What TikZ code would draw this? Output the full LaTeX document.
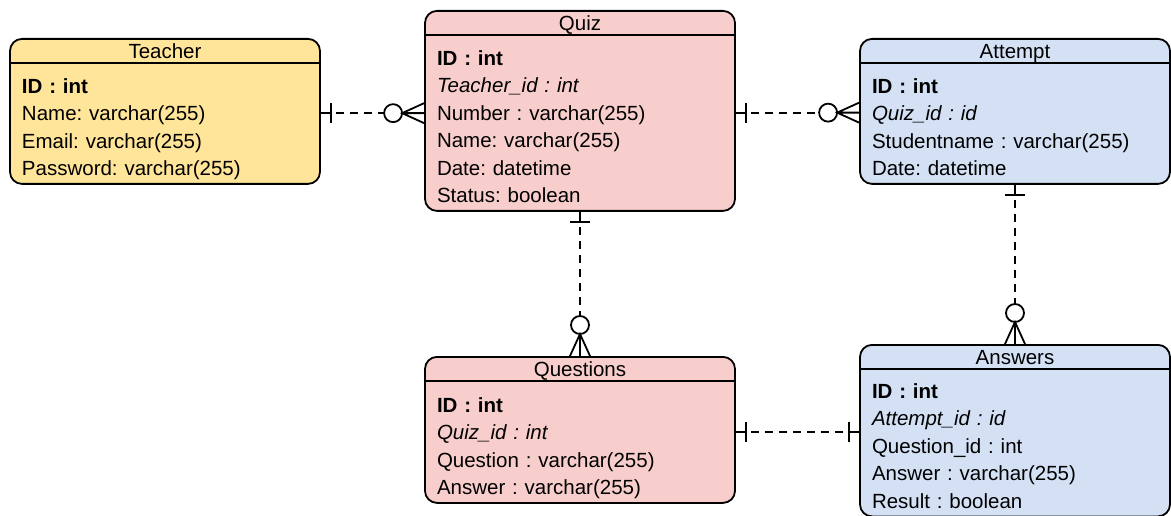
\documentclass[tikz,border=0pt]{standalone}
\usepackage{fontspec}
\setmainfont{Liberation Sans}
\usetikzlibrary{matrix}
\definecolor{yellowfill}{HTML}{FFE599}
\definecolor{redfill}{HTML}{F8CECC}
\definecolor{bluefill}{HTML}{D4E1F5}
\frenchspacing
\tikzset{%
    every matrix/.style={%
        matrix of nodes,%
        anchor=north,%
        draw,%
        line width=1.8pt,%
        rounded corners=12pt,%
        inner xsep=0pt,%
        inner ysep=2pt,%
        nodes={%
            text width=286pt,%
            inner xsep=12pt,%
            inner ysep=0pt,%
            minimum height=27.5pt,%
            text height=17pt,%
            text depth=2pt,%
            align=left,%
            font=\fontsize{20.5pt}{24pt}\selectfont%
        },%
        row 1/.style={nodes={align=center, minimum height=21pt}}%
    },%
    yellowtable/.style={fill=yellowfill},%
    redtable/.style={fill=redfill},%
    bluetable/.style={fill=bluefill},%
    link/.style={%
        line width=1.8pt,%
        dash pattern=on 8pt off 6pt%
    },%
    mandone/.pic={%
        \draw[line width=1.8pt] (0pt,0pt) -- (-10pt,0pt)
            (-10pt,-10pt) -- (-10pt,10pt);%
    },%
    optmany/.pic={%
        \draw[line width=1.8pt] (0pt,-10pt) -- (-22pt,0pt) -- (0pt,10pt)
            (0pt,0pt) -- (-22pt,0pt);%
        \draw[line width=1.8pt] (-31pt,0pt) circle (9pt);%
    }%
}

\begin{document}
\begin{tikzpicture}[x=1pt, y=-1pt]
    \useasboundingbox (0,0) rectangle (1171,516);
    \matrix[yellowtable] (teacher) at (165,38) {
        Teacher
        \\[10pt]
        \textbf{ID : int}
        \\
        Name: varchar(255)
        \\
        Email: varchar(255)
        \\
        Password: varchar(255)
        \\
    };
    \matrix[redtable] (quiz) at (580,10) {
        Quiz
        \\[10pt]
        \textbf{ID : int}
        \\
        \textit{Teacher\_id : int}
        \\
        Number : varchar(255)
        \\
        Name: varchar(255)
        \\
        Date: datetime
        \\
        Status: boolean
        \\
    };
    \matrix[bluetable] (attempt) at (1015,38) {
        Attempt
        \\[10pt]
        \textbf{ID : int}
        \\
        \textit{Quiz\_id : id}
        \\
        Studentname : varchar(255)
        \\
        Date: datetime
        \\
    };
    \matrix[redtable, nodes={minimum height=28pt}] (questions) at (580,356) {
        Questions
        \\[11pt]
        \textbf{ID : int}
        \\
        \textit{Quiz\_id : int}
        \\
        Question : varchar(255)
        \\
        Answer : varchar(255)
        \\
    };
    \matrix[bluetable] (answers) at (1015,344) {
        Answers
        \\[9pt]
        \textbf{ID : int}
        \\
        \textit{Attempt\_id : id}
        \\
        Question\_id : int
        \\
        Answer : varchar(255)
        \\
        Result : boolean
        \\
    };
    \draw[line width=1.8pt] (teacher-1-1.south -| teacher.west) -- (teacher-1-1.south -| teacher.east);
    \draw[line width=1.8pt] (quiz-1-1.south -| quiz.west) -- (quiz-1-1.south -| quiz.east);
    \draw[line width=1.8pt] (attempt-1-1.south -| attempt.west) -- (attempt-1-1.south -| attempt.east);
    \draw[line width=1.8pt] (questions-1-1.south -| questions.west) -- (questions-1-1.south -| questions.east);
    \draw[line width=1.8pt] (answers-1-1.south -| answers.west) -- (answers-1-1.south -| answers.east);
    \draw[link, shorten <=15pt, shorten >=40pt] (teacher-3-1.east) -- (teacher-3-1.east -| quiz.west);
    \pic[rotate=180] at (teacher-3-1.east) {mandone};
    \pic at (teacher-3-1.east -| quiz.west) {optmany};
    \draw[link, shorten <=15pt, shorten >=40pt] (quiz-4-1.east) -- (quiz-4-1.east -| attempt.west);
    \pic[rotate=180] at (quiz-4-1.east) {mandone};
    \pic at (quiz-4-1.east -| attempt.west) {optmany};
    \draw[link, shorten <=15pt, shorten >=40pt] (quiz.south) -- (questions.north);
    \pic[rotate=90] at (quiz.south) {mandone};
    \pic[rotate=-90] at (questions.north) {optmany};
    \draw[link, shorten <=15pt, shorten >=40pt] (attempt.south) -- (answers.north);
    \pic[rotate=90] at (attempt.south) {mandone};
    \pic[rotate=-90] at (answers.north) {optmany};
    \draw[link, shorten <=15pt, shorten >=15pt] (questions-3-1.east) -- (questions-3-1.east -| answers.west);
    \pic[rotate=180] at (questions-3-1.east) {mandone};
    \pic at (questions-3-1.east -| answers.west) {mandone};
\end{tikzpicture}
\end{document}
